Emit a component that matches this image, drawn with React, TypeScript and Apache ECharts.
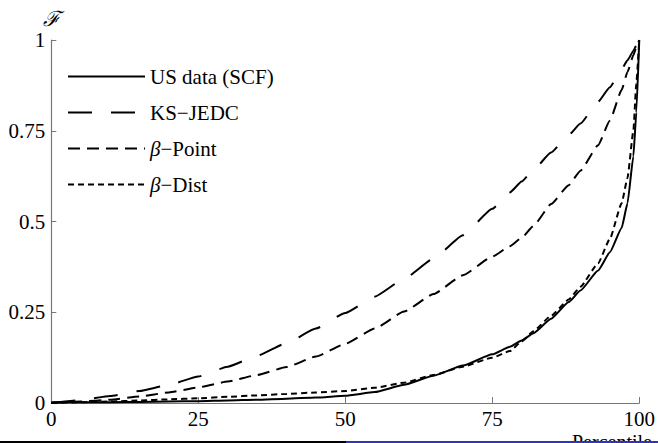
import React, { useEffect, useRef } from "react";
import * as echarts from "echarts";

const percentiles = [0, 5, 10, 15, 20, 25, 30, 35, 40, 45, 50, 55, 60, 65, 70, 75, 78, 80, 82, 85, 88, 90, 93, 95, 97, 98, 99, 99.5, 100];

const usData = [0.002, 0.002, 0.002, 0.003, 0.004, 0.005, 0.007, 0.009, 0.012, 0.015, 0.02, 0.03, 0.05, 0.075, 0.103, 0.134, 0.155, 0.172, 0.192, 0.232, 0.278, 0.31, 0.365, 0.415, 0.482, 0.55, 0.68, 0.8, 1.0];
const ksJedc = [0, 0.008, 0.019, 0.033, 0.05, 0.073, 0.1, 0.13, 0.165, 0.205, 0.248, 0.293, 0.342, 0.398, 0.462, 0.535, 0.58, 0.61, 0.642, 0.69, 0.738, 0.77, 0.83, 0.87, 0.92, 0.944, 0.97, 0.985, 1.0];
const betaPoint = [0, 0.004, 0.009, 0.018, 0.029, 0.043, 0.059, 0.077, 0.099, 0.128, 0.163, 0.205, 0.252, 0.3, 0.352, 0.403, 0.432, 0.455, 0.488, 0.548, 0.6, 0.64, 0.71, 0.778, 0.862, 0.912, 0.958, 0.98, 1.0];
const betaDist = [0, 0.002, 0.004, 0.007, 0.01, 0.013, 0.017, 0.021, 0.025, 0.029, 0.033, 0.042, 0.056, 0.077, 0.1, 0.125, 0.143, 0.17, 0.198, 0.24, 0.285, 0.32, 0.385, 0.452, 0.55, 0.62, 0.75, 0.88, 1.0];

const seriesNames = ["US data (SCF)", "KS\u2212JEDC", "\u03b2\u2212Point", "\u03b2\u2212Dist"];
const xTicks = { min: 0, max: 100, interval: 25 };
const yTicks = { min: 0, max: 1, interval: 0.25 };

const FONT = "Liberation Serif";
const FS = 21;

export default function App() {
  const ref = useRef<HTMLDivElement>(null);
  useEffect(() => {
    if (!ref.current) return;
    const chart = echarts.init(ref.current, null, { renderer: "svg" });
    const mk = (vals: number[]) => percentiles.map((p, i) => [p, vals[i]]);
    const dashes: any[] = ["solid", [24, 19], [12, 7], [6, 4]];
    const all = [usData, ksJedc, betaPoint, betaDist];
    chart.setOption({
      animation: false,
      textStyle: { fontFamily: FONT },
      grid: { left: 51.3, right: 18.7, top: 40, bottom: 40 },
      legend: {
        orient: "vertical",
        left: 62,
        top: 61,
        itemWidth: 77,
        itemHeight: 20,
        itemGap: 15,
        selectedMode: false,
        itemStyle: { opacity: 0, borderWidth: 0 },
        data: seriesNames.map((n) => ({ name: n })),
        formatter: (n: string) =>
          n.startsWith("\u03b2") ? "{i|\u03b2}{n|" + n.slice(1) + "}" : "{n|" + n + "}",
        textStyle: {
          fontFamily: FONT,
          fontSize: FS,
          color: "#000",
          lineHeight: 20,
          rich: {
            i: { fontFamily: FONT, fontSize: FS, fontStyle: "italic", color: "#000", lineHeight: 20 },
            n: { fontFamily: FONT, fontSize: FS, color: "#000", lineHeight: 20 },
          },
        },
      },
      xAxis: {
        type: "value",
        min: xTicks.min,
        max: xTicks.max,
        interval: xTicks.interval,
        axisLine: { lineStyle: { color: "#777", width: 1.2 } },
        axisTick: { inside: true, length: 6, lineStyle: { color: "#777" } },
        axisLabel: { fontFamily: FONT, fontSize: FS, color: "#000", margin: 5, lineHeight: 21 },
        splitLine: { show: false },
      },
      yAxis: {
        type: "value",
        min: yTicks.min,
        max: yTicks.max,
        interval: yTicks.interval,
        name: "\u2131",
        nameLocation: "end",
        nameGap: 10,
        nameTextStyle: { fontFamily: FONT, fontSize: FS, color: "#000", align: "center", fontStyle: "italic" },
        axisLine: { show: true, lineStyle: { color: "#777", width: 1.2 } },
        axisTick: { show: true, inside: true, length: 5, lineStyle: { color: "#777" } },
        axisLabel: { fontFamily: FONT, fontSize: FS, color: "#000", margin: 6 },
        splitLine: { show: false },
      },
      series: seriesNames.map((n, i) => ({
        name: n,
        type: "line",
        data: mk(all[i]),
        symbol: "none",
        showSymbol: false,
        smooth: 0.15,
        smoothMonotone: "x",
        lineStyle: { color: "#000", width: 2, type: dashes[i], cap: "butt" },
        itemStyle: { color: "#000" },
      })),
      graphic: [
        {
          type: "text",
          left: 572,
          top: 432,
          z: 10,
          style: { text: "Percentile", fontFamily: FONT, fontSize: 20, fill: "#000" },
        },
        { type: "rect", left: 0, top: 441, z: 20, shape: { width: 346, height: 2 }, style: { fill: "#000" } },
        { type: "rect", left: 346, top: 441, z: 20, shape: { width: 312, height: 2 }, style: { fill: "#3333b3" } },
      ],
    });
    return () => chart.dispose();
  }, []);
  return <div ref={ref} style={{ width: 658, height: 443, position: "absolute", left: 0, top: 0, background: "#fff" }} />;
}
